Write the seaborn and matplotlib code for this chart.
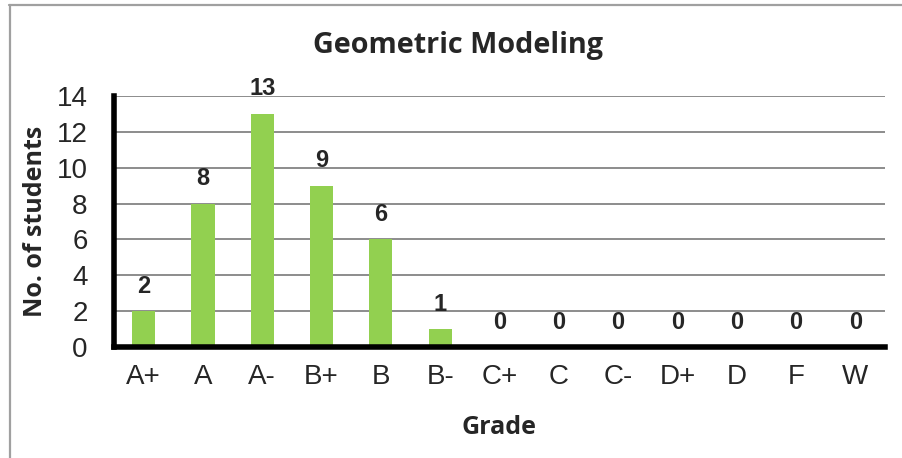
import matplotlib
matplotlib.use("Agg")
import matplotlib.pyplot as plt
import seaborn as sns
import pandas as pd
from matplotlib.lines import Line2D
from matplotlib.ticker import FixedLocator

grades = ["A+", "A", "A-", "B+", "B", "B-", "C+", "C", "C-", "D+", "D", "F", "W"]
students = [2, 8, 13, 9, 6, 1, 0, 0, 0, 0, 0, 0, 0]
yticks = [0, 2, 4, 6, 8, 10, 12, 14]
title = "Geometric Modeling"
xlabel = "Grade"
ylabel = "No. of students"

df = pd.DataFrame({"grade": grades, "students": students})

sns.set_style("white")
fig = plt.figure(figsize=(9.02, 4.58), dpi=100)
ax = fig.add_axes([114 / 902, 1 - 347 / 458, (885 - 114) / 902, (347 - 96) / 458])

sns.barplot(data=df, x="grade", y="students", color="#92D050", width=0.39,
            saturation=1, linewidth=0, ax=ax, zorder=3)

ax.set_ylim(0, 14)
ax.set_xlim(-0.5, len(grades) - 0.5)
ax.set_yticks(yticks)
ax.yaxis.grid(True, color="#8c8c8c", linewidth=1.4, zorder=0)
ax.xaxis.grid(False)
ax.set_axisbelow(True)

for s in ["top", "right"]:
    ax.spines[s].set_visible(False)
for s in ["left", "bottom"]:
    ax.spines[s].set_visible(True)
    ax.spines[s].set_color("black")
    ax.spines[s].set_linewidth(4)
    ax.spines[s].set_zorder(5)
ax.spines["left"].set_bounds(0, 14)

tickfont = dict(family="Liberation Sans", size=20)
ax.set_yticklabels([str(v) for v in yticks], **tickfont)
ax.set_xticks(range(len(grades)))
ax.set_xticklabels(grades, **tickfont)
ax.tick_params(axis="x", which="major", length=0, pad=12)
ax.xaxis.set_minor_locator(FixedLocator([i - 0.5 for i in range(len(grades) + 1)]))
ax.tick_params(axis="x", which="minor", length=8, width=4, color="black", direction="out")
ax.tick_params(axis="y", which="major", length=7, width=4, color="black", direction="out", pad=12)

for i, v in enumerate(students):
    ax.text(i, v + 0.75, str(v), ha="center", va="bottom",
            family="Liberation Sans", weight="bold", size=17)

ax.set_xlabel(xlabel, family="Open Sans", weight="bold", size=18, labelpad=18)
ax.set_ylabel(ylabel, family="Open Sans", weight="bold", size=18, labelpad=6)
fig.text(458 / 902, 1 - 46 / 458, title, ha="center", va="center",
         family="Open Sans", weight="bold", size=20.7)

fig.add_artist(Line2D([9 / 902, 1], [1 - 4.5 / 458] * 2, transform=fig.transFigure,
                      color="#a0a0a0", linewidth=1.6))
fig.add_artist(Line2D([9.5 / 902] * 2, [0, 1 - 4.5 / 458], transform=fig.transFigure,
                      color="#a0a0a0", linewidth=1.6))

fig.savefig("out.png", dpi=100)
